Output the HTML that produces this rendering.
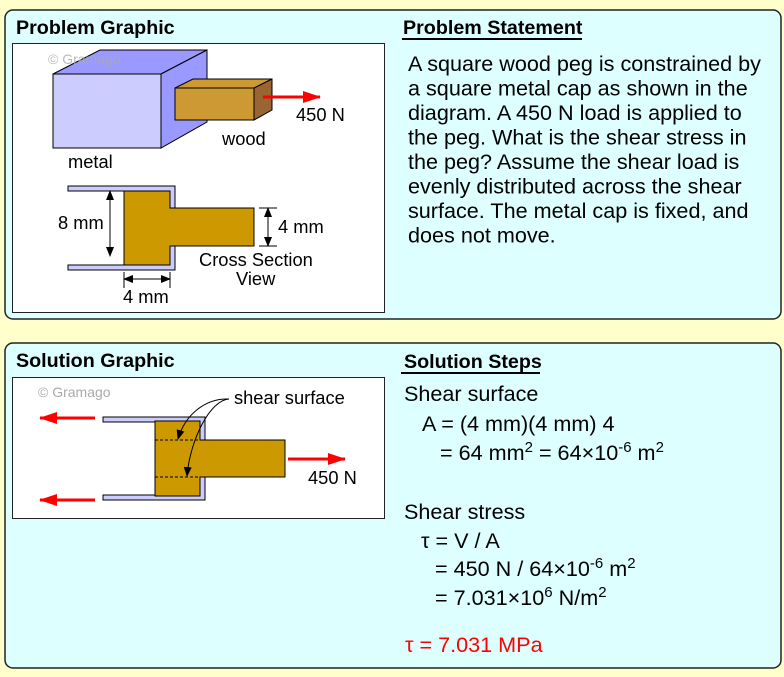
<!DOCTYPE html>
<html><head><meta charset="utf-8"><style>
html,body{margin:0;padding:0;background:#ffffcc;}
svg{display:block;}
text{font-family:"Liberation Sans",sans-serif;}
</style></head><body>
<svg width="784" height="677" viewBox="0 0 784 677" xmlns="http://www.w3.org/2000/svg">
<defs>
<marker id="ar" markerWidth="10" markerHeight="8" refX="9" refY="4" orient="auto" markerUnits="userSpaceOnUse"><path d="M0,0 L10,4 L0,8 Z" fill="#000"/></marker>
<marker id="arr" markerWidth="18" markerHeight="12" refX="17" refY="6" orient="auto" markerUnits="userSpaceOnUse"><path d="M0,0 L18,6 L0,12 Z" fill="#ff0000"/></marker>
</defs>
<rect x="0" y="0" width="784" height="677" fill="#ffffcc"/>
<rect x="5" y="10" width="776" height="309" rx="8" fill="#ddffff" stroke="#222" stroke-width="1.5"/>
<rect x="5" y="343" width="776" height="325" rx="8" fill="#ddffff" stroke="#222" stroke-width="1.5"/>

<text x="16" y="34" font-size="19.7" font-weight="bold">Problem Graphic</text>
<text x="403" y="34" font-size="19.7" font-weight="bold">Problem Statement</text>
<line x1="402" y1="39" x2="582" y2="39" stroke="#000" stroke-width="2"/>
<rect x="12.5" y="43.5" width="372" height="269" fill="#fff" stroke="#222" stroke-width="1"/>
<!-- metal box -->
<polygon points="53,74 100,50 207,50 161,74" fill="#9999ff" stroke="#000" stroke-width="1"/>
<polygon points="161,74 207,50 207,122 161,148" fill="#9999ff" stroke="#000" stroke-width="1"/>
<rect x="53" y="74" width="108" height="74" fill="#ccccff" stroke="#000" stroke-width="1"/>
<text x="48" y="64" font-size="14" fill="#aaa" fill-opacity="0.8">© Gramago</text>
<!-- wood -->
<polygon points="175,88 193,79 272,79 254,88" fill="#cc9933" stroke="#000" stroke-width="1"/>
<polygon points="254,88 272,79 272,110 254,120" fill="#996633" stroke="#000" stroke-width="1"/>
<rect x="175" y="88" width="79" height="32" fill="#cc9933" stroke="#000" stroke-width="1"/>
<line x1="263" y1="97" x2="320" y2="97" stroke="#ff0000" stroke-width="3" marker-end="url(#arr)"/>
<text x="296" y="121" font-size="18.3">450 N</text>
<text x="222" y="145" font-size="18.3">wood</text>
<text x="68" y="168" font-size="18.3">metal</text>
<!-- cross section -->
<path d="M68,186 H175 V270 H68 V265 H170 V191 H68 Z" fill="#ccccff" stroke="#000" stroke-width="1"/>
<polygon points="124,191 170,191 170,208 254,208 254,246 170,246 170,265 124,265" fill="#cc9900" stroke="#000" stroke-width="1"/>
<line x1="110" y1="200" x2="110" y2="256" stroke="#000" marker-end="url(#ar)"/>
<line x1="110" y1="256" x2="110" y2="191" stroke="#000" marker-end="url(#ar)"/>
<line x1="104" y1="191" x2="120" y2="191" stroke="#000"/>
<line x1="104" y1="265" x2="120" y2="265" stroke="#000"/>
<text x="58" y="229" font-size="18.3">8 mm</text>
<line x1="268" y1="220" x2="268" y2="246" stroke="#000" marker-end="url(#ar)"/>
<line x1="268" y1="234" x2="268" y2="208" stroke="#000" marker-end="url(#ar)"/>
<line x1="259" y1="208" x2="277" y2="208" stroke="#000"/>
<line x1="259" y1="246" x2="277" y2="246" stroke="#000"/>
<text x="278" y="233" font-size="18.3">4 mm</text>
<text x="199" y="266" font-size="18.3">Cross Section</text>
<text x="236" y="285" font-size="18.3">View</text>
<line x1="124" y1="272" x2="124" y2="288" stroke="#000"/>
<line x1="170" y1="272" x2="170" y2="288" stroke="#000"/>
<line x1="135" y1="279" x2="170" y2="279" stroke="#000" marker-end="url(#ar)"/>
<line x1="160" y1="279" x2="124" y2="279" stroke="#000" marker-end="url(#ar)"/>
<text x="123" y="303" font-size="18.3">4 mm</text>

<g font-size="21.6">
<text x="408" y="71">A square wood peg is constrained by</text>
<text x="408" y="95.5">a square metal cap as shown in the</text>
<text x="408" y="120">diagram. A 450 N load is applied to</text>
<text x="408" y="144.5">the peg. What is the shear stress in</text>
<text x="408" y="169">the peg? Assume the shear load is</text>
<text x="408" y="193.5">evenly distributed across the shear</text>
<text x="408" y="218">surface. The metal cap is fixed, and</text>
<text x="408" y="242.5">does not move.</text>
</g>

<text x="16" y="367" font-size="19.7" font-weight="bold">Solution Graphic</text>
<text x="404" y="368" font-size="19.7" font-weight="bold">Solution Steps</text>
<line x1="401" y1="373" x2="540" y2="373" stroke="#000" stroke-width="2"/>
<rect x="12.5" y="377.5" width="372" height="141" fill="#fff" stroke="#222" stroke-width="1"/>
<text x="38" y="397" font-size="14" fill="#aaa">© Gramago</text>
<path d="M103,417 H205 V500 H103 V495 H200 V422 H103 Z" fill="#ccccff" stroke="#000" stroke-width="1"/>
<polygon points="155,421 200,421 200,440 285,440 285,477 200,477 200,496 155,496" fill="#cc9900" stroke="#000" stroke-width="1"/>
<line x1="155" y1="440" x2="200" y2="440" stroke="#000" stroke-dasharray="3,2"/>
<line x1="155" y1="477" x2="200" y2="477" stroke="#000" stroke-dasharray="3,2"/>
<line x1="95" y1="418" x2="40" y2="418" stroke="#ff0000" stroke-width="3" marker-end="url(#arr)"/>
<line x1="95" y1="500" x2="40" y2="500" stroke="#ff0000" stroke-width="3" marker-end="url(#arr)"/>
<line x1="288" y1="459" x2="345" y2="459" stroke="#ff0000" stroke-width="3" marker-end="url(#arr)"/>
<text x="308" y="484" font-size="18.3">450 N</text>
<text x="234" y="404" font-size="18.3">shear surface</text>
<path d="M229,399 C205,398 185,415 178,439" fill="none" stroke="#000" marker-end="url(#ar)"/>
<path d="M229,399 C210,400 190,440 187,476" fill="none" stroke="#000" marker-end="url(#ar)"/>

<g font-size="21.6">
<text x="404" y="401">Shear surface</text>
<text x="422" y="431">A = (4 mm)(4 mm) 4</text>
<text x="440" y="460">= 64 mm<tspan font-size="15" dy="-8">2</tspan><tspan dy="8"> = 64×10</tspan><tspan font-size="15" dy="-8">-6</tspan><tspan dy="8"> m</tspan><tspan font-size="15" dy="-8">2</tspan></text>
<text x="404" y="519">Shear stress</text>
<text x="421" y="548">τ = V / A</text>
<text x="435" y="576">= 450 N / 64×10<tspan font-size="15" dy="-8">-6</tspan><tspan dy="8"> m</tspan><tspan font-size="15" dy="-8">2</tspan></text>
<text x="435" y="605">= 7.031×10<tspan font-size="15" dy="-8">6</tspan><tspan dy="8"> N/m</tspan><tspan font-size="15" dy="-8">2</tspan></text>
<text x="405" y="652" fill="#ff0000">τ = 7.031 MPa</text>
</g>
</svg>
</body></html>
